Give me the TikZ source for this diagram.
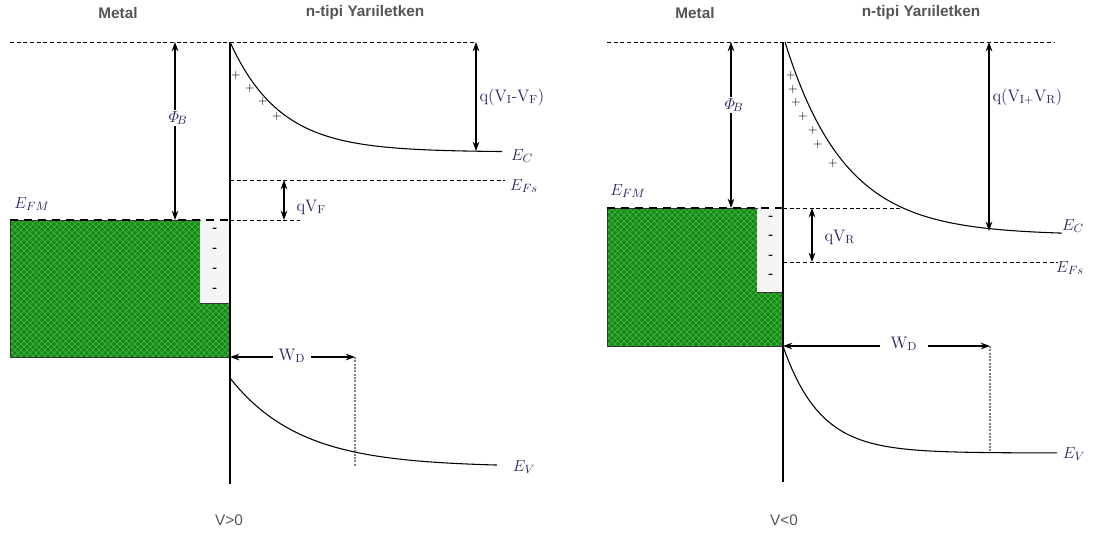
\documentclass[tikz,border=0pt]{standalone}
\usepackage{amsmath}
\usepackage{fontspec}
\newfontfamily\sansf{Liberation Sans}
\usetikzlibrary{arrows.meta,patterns}
\definecolor{lab}{RGB}{35,35,95}
\definecolor{metalg}{RGB}{20,140,20}
\definecolor{hatchg}{RGB}{80,180,80}
\definecolor{titleg}{RGB}{85,85,85}
\pgfdeclarepatternformonly{xhatch}{\pgfqpoint{-1pt}{-1pt}}{\pgfqpoint{5.5pt}{5.5pt}}{\pgfqpoint{4.5pt}{4.5pt}}{%
  \pgfsetlinewidth{0.45pt}%
  \pgfpathmoveto{\pgfqpoint{0pt}{0pt}}\pgfpathlineto{\pgfqpoint{4.5pt}{4.5pt}}%
  \pgfpathmoveto{\pgfqpoint{0pt}{4.5pt}}\pgfpathlineto{\pgfqpoint{4.5pt}{0pt}}%
  \pgfusepath{stroke}}
\newcommand\metalblockL{(10,220) -- (200,220) -- (200,303) -- (230,303) -- (230,357) -- (10,357) -- cycle}
\newcommand\metalblockR{(607,208) -- (757,208) -- (757,292) -- (783,292) -- (783,346) -- (607,346) -- cycle}
\begin{document}
\begin{tikzpicture}[x=0.75pt,y=-0.75pt,
  title/.style={font=\sansf\bfseries\fontsize{11.5}{13}\selectfont, text=titleg},
  bias/.style={font=\sansf\fontsize{11.5}{13}\selectfont, text=titleg},
  lbl/.style={text=lab, font=\fontsize{12.5}{14}\selectfont, inner sep=1pt},
  chg/.style={font=\fontsize{9}{10}\selectfont\bfseries, inner sep=0pt},
  dline/.style={dash pattern=on 3pt off 2pt, line width=0.5pt},
  thickd/.style={line width=2pt, dash pattern=on 6pt off 4.5pt},
  arr/.style={{Stealth[length=7pt,width=5pt]}-{Stealth[length=7pt,width=5pt]}, line width=0.9pt},
  band/.style={line width=0.8pt},
  wdline/.style={gray, line width=1.1pt, dash pattern=on 1.5pt off 1pt}]
\useasboundingbox (0,0) rectangle (1103,539);

% ================= LEFT PANEL (V>0) =================
\node[title] (metL) at (118,13) {Metal};
\node[title] (semL) at (365,13) {n-tipi Yarıiletken};

\fill[metalg] \metalblockL;
\fill[pattern=xhatch, pattern color=hatchg] \metalblockL;
\draw[black!80, line width=0.6pt] \metalblockL;
\fill[black!4] (200.4,221) rectangle (229.6,302.6);
\foreach \yy in {230,250,270,290} \node[chg] at (215,\yy) {-};

\draw[dline] (10,42) -- (475,42);
\draw[band] (230,42) -- (230,484);
\draw[band] plot[domain=230:502,samples=80,smooth] (\x,{152-110*exp(-(\x-230)/50)});
\foreach \xx/\yy in {236/75,250/88,263/101,277/116} \node[chg] at (\xx,\yy) {$+$};

\draw[dline] (230,180) -- (505,180);
\draw[thickd] (10,220) -- (230,220);
\draw[dline] (230,220) -- (300,220);

\coordinate (phiLt) at (175,42); \coordinate (phiLb) at (175,220);
\draw[arr] (phiLt) -- (phiLb);
\node[lbl, fill=white] (phiL) at (178,118) {$\varPhi_{\!B}$};

\coordinate (qLt) at (476,42); \coordinate (qLb) at (476,151);
\draw[arr] (qLt) -- (qLb);
\node[lbl, anchor=west] (qL) at (478,97) {q(V\textsubscript{I}-V\textsubscript{F})};

\coordinate (qfLt) at (284,180); \coordinate (qfLb) at (284,220);
\draw[arr] (qfLt) -- (qfLb);
\node[lbl, anchor=west] (qfL) at (295,207) {qV\textsubscript{F}};

\node[lbl] (ecL) at (522,156) {$E_C$};
\node[lbl] (efsL) at (524,186) {$E_{Fs}$};
\node[lbl] (efmL) at (32,204) {$E_{FM}$};

\coordinate (wdLa) at (230,357); \coordinate (wdLb) at (355,357);
\draw[arr] (wdLa) -- (wdLb);
\node[lbl, fill=white, inner xsep=4pt] (wdL) at (292,356) {W\textsubscript{D}};
\coordinate (wdLe) at (355,467);
\draw[wdline] (wdLb) -- (wdLe);

\draw[band] plot[domain=230:497,samples=80,smooth] (\x,{467-89*exp(-(\x-230)/70)});
\node[lbl] (evL) at (524,467) {$E_V$};

\node[bias] (vL) at (229,520) {V>0};

% ================= RIGHT PANEL (V<0) =================
\node[title] (metR) at (695,13) {Metal};
\node[title] (semR) at (921,13) {n-tipi Yarıiletken};

\fill[metalg] \metalblockR;
\fill[pattern=xhatch, pattern color=hatchg] \metalblockR;
\draw[black!80, line width=0.6pt] \metalblockR;
\fill[black!4] (757.4,209) rectangle (782.6,291.6);
\foreach \yy in {218,237,257,276} \node[chg] at (771,\yy) {-};

\draw[dline] (607,42) -- (1055,42);
\draw[band] (783,42) -- (783,482);
\draw[band] plot[domain=785:1062,samples=100,smooth] (\x,{235-193*exp(-(\x-785)/60)});
\foreach \xx/\yy in {791/75,793/89,796/102,803/116,813/130,818/144,833/163} \node[chg] at (\xx,\yy) {$+$};

\draw[thickd] (607,208) -- (783,208);
\draw[dline] (783,208) -- (900,208);
\draw[dline] (783,262) -- (1058,262);

\coordinate (phiRt) at (731,42); \coordinate (phiRb) at (731,208);
\draw[arr] (phiRt) -- (phiRb);
\node[lbl, fill=white] (phiR) at (734,105) {$\varPhi_{\!B}$};

\coordinate (qRt) at (989,42); \coordinate (qRb) at (989,231);
\draw[arr] (qRt) -- (qRb);
\node[lbl, anchor=west] (qR) at (991,97) {q(V\textsubscript{I+}V\textsubscript{R})};

\coordinate (qrRt) at (812,208); \coordinate (qrRb) at (812,262);
\draw[arr] (qrRt) -- (qrRb);
\node[lbl, anchor=west] (qrR) at (823,237) {qV\textsubscript{R}};

\node[lbl] (ecR) at (1073,226) {$E_C$};
\node[lbl] (efsR) at (1070,268) {$E_{Fs}$};
\node[lbl] (efmR) at (628,191) {$E_{FM}$};

\coordinate (wdRa) at (783,346); \coordinate (wdRb) at (990,346);
\draw[arr] (wdRa) -- (wdRb);
\node[lbl, fill=white, inner xsep=8pt] (wdR) at (904,344) {W\textsubscript{D}};
\coordinate (wdRe) at (990,452);
\draw[wdline] (wdRb) -- (wdRe);

\draw[band] plot[domain=783:1057,samples=100,smooth] (\x,{453-107*exp(-(\x-783)/37)});
\node[lbl] (evR) at (1074,454) {$E_V$};

\node[bias] (vR) at (784,520) {V<0};
\end{tikzpicture}
\end{document}
